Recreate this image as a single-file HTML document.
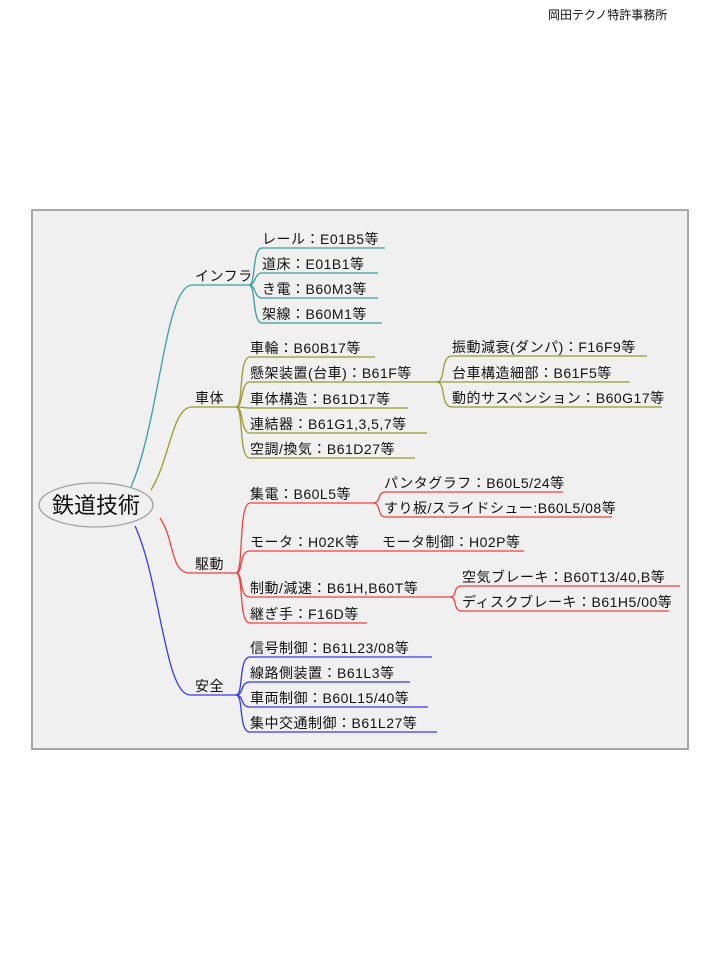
<!DOCTYPE html>
<html><head><meta charset="utf-8"><style>
html,body{margin:0;padding:0;background:#fff;width:720px;height:960px;overflow:hidden}
svg{display:block}
text{font-family:"Liberation Sans","Noto Sans CJK JP",sans-serif;font-size:14px;fill:#111;letter-spacing:0.5px}
</style></head><body>
<svg width="720" height="960" viewBox="0 0 720 960">
<text x="548" y="19" style="font-size:12px;letter-spacing:0">岡田テクノ特許事務所</text>
<rect x="32" y="210" width="656" height="539" fill="#f0f0f0" stroke="#a8a8a8" stroke-width="2"/>
<g fill="none" stroke-width="1.3">
<g stroke="#3a9e9e">
<path d="M131,487 C160,420 165,285 192,285 L249,285"/>
<path d="M249,285 C256,285 252,248 262,248 L385,248"/>
<path d="M249,285 C256,285 254,273 262,273 L378,273"/>
<path d="M249,285 C256,285 254,298 262,298 L378,298"/>
<path d="M249,285 C256,285 252,323 262,323 L382,323"/>
</g>
<g stroke="#9a9a30">
<path d="M151,490 C170,460 172,407 192,407 L236,407"/>
<path d="M236,407 C244,407 238,357 250,357 L375,357"/>
<path d="M236,407 C244,407 240,382 250,382 L437,382"/>
<path d="M236,407 C244,407 242,408 250,408 L408,408"/>
<path d="M236,407 C244,407 240,433 250,433 L427,433"/>
<path d="M236,407 C244,407 238,458 250,458 L415,458"/>
<path d="M437,382 C446,382 440,356 452,356 L647,356"/>
<path d="M437,382 L630,382"/>
<path d="M437,382 C446,382 440,407 452,407 L662,407"/>
</g>
<g stroke="#f04040">
<path d="M160,518 C175,540 170,573 190,573 L236,573"/>
<path d="M236,573 C244,573 238,503 250,503 L373,503"/>
<path d="M236,573 C244,573 238,551 250,551 L370,551"/>
<path d="M236,573 C244,573 238,597 250,597 L450,597"/>
<path d="M236,573 C244,573 238,623 250,623 L367,623"/>
<path d="M373,503 C382,503 376,492 386,492 L563,492"/>
<path d="M373,503 C382,503 376,517 386,517 L612,517"/>
<path d="M370,551 L524,551"/>
<path d="M450,597 C458,597 452,586 462,586 L680,586"/>
<path d="M450,597 C458,597 452,611 462,611 L669,611"/>
</g>
<g stroke="#3838f0">
<path d="M135,526 C160,580 165,695 190,695 L236,695"/>
<path d="M236,695 C244,695 238,657 250,657 L432,657"/>
<path d="M236,695 C244,695 240,682 250,682 L410,682"/>
<path d="M236,695 C244,695 240,707 250,707 L428,707"/>
<path d="M236,695 C244,695 238,732 250,732 L437,732"/>
</g>
</g>
<ellipse cx="96" cy="505" rx="57" ry="22" fill="#f0f0f0" stroke="#a0a0a0" stroke-width="1.3"/>
<text x="96" y="513" text-anchor="middle" style="font-size:22px;letter-spacing:0">鉄道技術</text>
<text x="195" y="281">インフラ</text>
<text x="195" y="403">車体</text>
<text x="195" y="569">駆動</text>
<text x="195" y="691">安全</text>
<text x="262" y="244">レール：E01B5等</text>
<text x="262" y="269">道床：E01B1等</text>
<text x="262" y="294">き電：B60M3等</text>
<text x="262" y="319">架線：B60M1等</text>
<text x="250" y="353">車輪：B60B17等</text>
<text x="250" y="378">懸架装置(台車)：B61F等</text>
<text x="250" y="404">車体構造：B61D17等</text>
<text x="250" y="429">連結器：B61G1,3,5,7等</text>
<text x="250" y="454">空調/換気：B61D27等</text>
<text x="452" y="352">振動減衰(ダンパ)：F16F9等</text>
<text x="452" y="378">台車構造細部：B61F5等</text>
<text x="452" y="403">動的サスペンション：B60G17等</text>
<text x="250" y="499">集電：B60L5等</text>
<text x="250" y="547">モータ：H02K等</text>
<text x="250" y="593">制動/減速：B61H,B60T等</text>
<text x="250" y="619">継ぎ手：F16D等</text>
<text x="384" y="488">パンタグラフ：B60L5/24等</text>
<text x="384" y="513">すり板/スライドシュー:B60L5/08等</text>
<text x="382" y="547">モータ制御：H02P等</text>
<text x="462" y="582">空気ブレーキ：B60T13/40,B等</text>
<text x="462" y="607">ディスクブレーキ：B61H5/00等</text>
<text x="250" y="653">信号制御：B61L23/08等</text>
<text x="250" y="678">線路側装置：B61L3等</text>
<text x="250" y="703">車両制御：B60L15/40等</text>
<text x="250" y="728">集中交通制御：B61L27等</text>
</svg>
</body></html>
